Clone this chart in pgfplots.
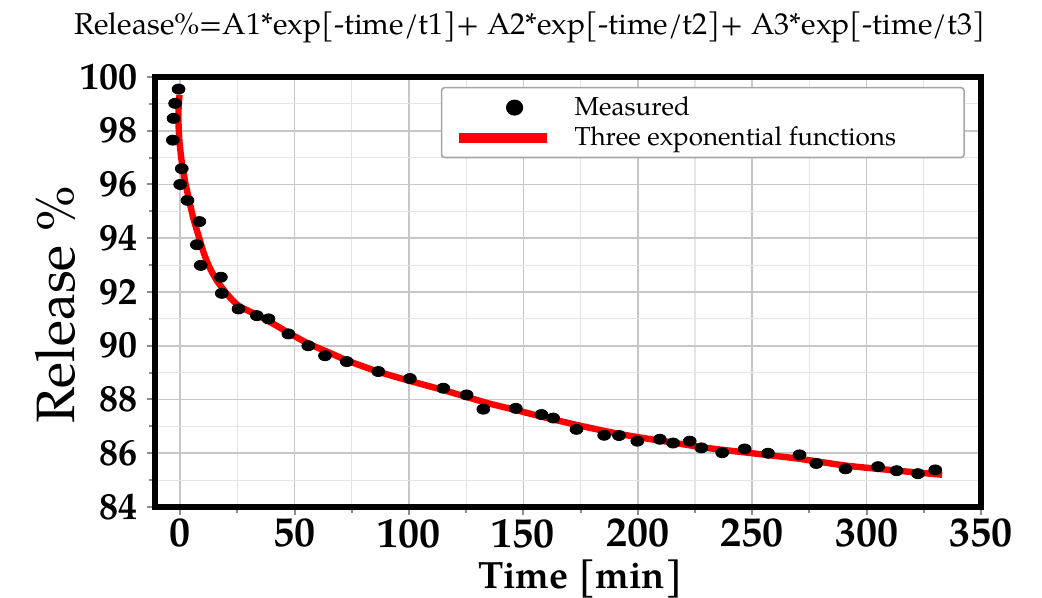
\documentclass[border=0pt]{standalone}
\usepackage{fontspec}
\setmainfont{TeX Gyre Pagella}
\usepackage{pgfplots}
\pgfplotsset{compat=1.18}
\begin{document}
\begin{tikzpicture}
\path[use as bounding box] (-77.5pt,-45.5pt) rectangle (443.5pt,253.5pt);
\begin{axis}[
  at={(0,0)}, anchor=south west,
  scale only axis, width=413pt, height=215pt,
  xmin=-11, xmax=350, ymin=84, ymax=100,
  xtick={0,50,...,350}, ytick={84,86,...,100},
  minor x tick num=1, minor y tick num=1,
  grid=both,
  major grid style={draw=black!22, line width=0.8pt},
  minor grid style={draw=black!10, line width=0.6pt},
  axis line style={black, line width=3pt},
  tick pos=left, tick align=outside,
  major tick length=4pt, minor tick length=3pt,
  tick style={draw=black!45, line width=1pt},
  /pgf/number format/assume math mode=true,
  yticklabel style={font=\bfseries\fontsize{19}{19}\selectfont, xshift=-1pt},
  xticklabel style={font=\bfseries\fontsize{21}{21}\selectfont, yshift=1.5pt},
  xlabel={\bfseries Time [min]},
  xlabel style={font=\fontsize{19}{19}\selectfont, at={(axis description cs:0.515,-0.168)}, anchor=center},
  ylabel={Release \%},
  ylabel style={font=\fontsize{27}{27}\selectfont, at={(axis description cs:-0.121,0.47)}, anchor=center},
  title={Release\%=A1*exp[-time/t1]+ A2*exp[-time/t2]+ A3*exp[-time/t3]},
  title style={font=\fontsize{15.1}{15.1}\selectfont, at={(axis description cs:0.454,1)}, anchor=base, yshift=15pt},
  legend style={at={(rel axis cs:0.346,0.977)}, anchor=north west,
    draw=black!35, line width=0.8pt, rounded corners=1.5pt,
    font=\fontsize{13}{15}\selectfont, inner xsep=6pt, inner ysep=2.5pt, row sep=0pt},
  legend cell align=left,
]
\addplot[only marks, mark=*, mark size=2.8pt, draw=black, fill=black,
  mark options={xscale=1.15, yscale=0.9},
  legend image code/.code={\path[draw=none, fill=none] (0pt,0pt) -- (56pt,0pt); \fill[black] (28pt,0pt) circle[x radius=3.9pt, y radius=3.6pt];}]
coordinates {
(-0.7,99.55) (-2.2,99.02) (-2.9,98.46) (-3.2,97.65) (0.7,96.59) (0.0,96.00)
(3.2,95.41) (8.4,94.62) (7.3,93.76) (9.0,92.99) (17.8,92.55) (18.2,91.95)
(25.5,91.37) (33.5,91.12) (38.6,91.00) (47.3,90.44) (56.0,90.00) (63.3,89.63)
(72.8,89.41) (86.6,89.04) (100.4,88.78) (115.0,88.42) (125.2,88.17) (132.5,87.64)
(146.7,87.67) (157.9,87.44) (163.0,87.31) (173.2,86.89) (185.3,86.67) (191.8,86.66)
(199.8,86.45) (209.6,86.52) (215.4,86.38) (222.7,86.45) (227.8,86.20) (236.9,86.02)
(246.7,86.16) (256.9,86.00) (270.7,85.94) (278.0,85.62) (290.8,85.42) (305.0,85.50)
(313.1,85.35) (322.4,85.24) (330.0,85.38)
};
\addlegendentry{Measured}
\addplot[red, line width=3.2pt, smooth, tension=0.4,
  legend image code/.code={\path[draw=none, fill=none] (0pt,0pt) -- (56pt,0pt); \draw[red, line width=5pt] (0pt,0pt) -- (44pt,0pt);}]
coordinates {
(-0.3,99.33) (-0.7,98.83) (-0.7,98.21) (-0.3,97.59) (0.7,96.84) (2.2,96.09)
(4.1,95.35) (5.8,94.73) (8.0,94.10) (10.2,93.48) (12.8,92.92) (16.0,92.43)
(20.4,91.93) (25.5,91.49) (33.5,91.15) (40,90.85) (47,90.50) (56,90.08)
(65,89.75) (73,89.45) (86,89.05) (100,88.70) (115,88.35) (125,88.10)
(135,87.85) (147,87.60) (160,87.32) (175,87.02) (190,86.75) (200,86.60)
(215,86.40) (230,86.20) (250,86.00) (270,85.80) (290,85.55) (305,85.42)
(320,85.30) (333,85.20)
};
\addlegendentry{Three exponential functions\rule{26pt}{0pt}}
\end{axis}
\end{tikzpicture}
\end{document}
